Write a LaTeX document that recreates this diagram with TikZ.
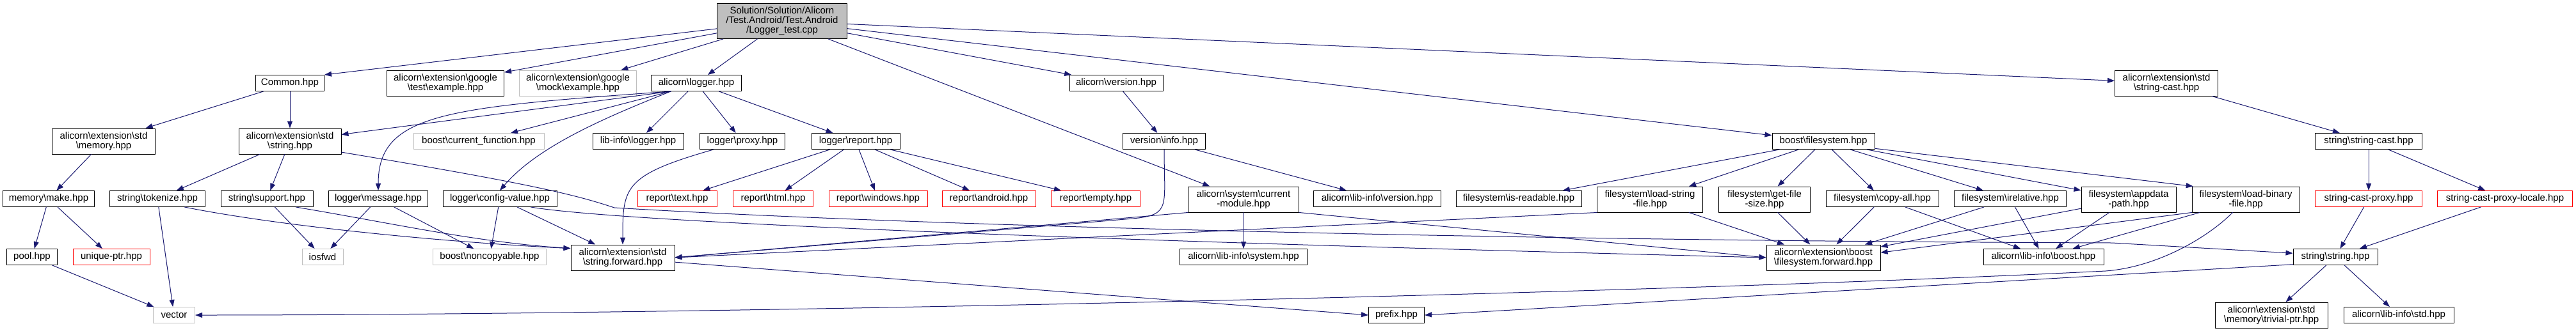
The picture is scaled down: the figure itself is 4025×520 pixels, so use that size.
\documentclass[tikz,border=0pt]{standalone}
\usepackage{fontspec}
\setmainfont{Liberation Sans}
\usetikzlibrary{arrows.meta}
\definecolor{edgeblue}{HTML}{191970}
\definecolor{boxgray}{HTML}{BFBFBF}
\newcommand{\bksl}{\textbackslash}

\begin{document}
\begin{tikzpicture}[x=1pt,y=1pt,line cap=round,line join=round,
  box/.style={draw=black,line width=1pt,inner xsep=4pt,inner ysep=3pt,minimum height=25pt,align=center,font=\fontsize{15}{15}\selectfont},
  dbl/.style={box,minimum height=40pt},
  ext/.style={draw=boxgray},
  miss/.style={draw=red},
  dep/.style={draw=edgeblue,line width=1pt,-{Triangle[length=11pt,width=8pt]}}]
\useasboundingbox (0,0) rectangle (4025,-520);
\node[box,minimum width=203pt,minimum height=55pt,fill=boxgray] (root) at (1222,-33) {Solution/Solution/Alicorn\\/Test.Android/Test.Android\\/Logger\_test.cpp};
\node[box,minimum width=107pt] (common) at (453,-130) {Common.hpp};
\node[dbl,minimum width=183pt] (gtest) at (696,-130) {alicorn\bksl extension\bksl google\\\bksl test\bksl example.hpp};
\node[dbl,ext,minimum width=183pt] (gmock) at (903,-130) {alicorn\bksl extension\bksl google\\\bksl mock\bksl example.hpp};
\node[box,minimum width=141pt] (logger) at (1088,-130) {alicorn\bksl logger.hpp};
\node[box,minimum width=146pt] (version) at (1744,-130) {alicorn\bksl version.hpp};
\node[dbl,minimum width=161pt] (strcast) at (3385,-130) {alicorn\bksl extension\bksl std\\\bksl string-cast.hpp};
\node[dbl,minimum width=161pt] (stdmem) at (162,-221) {alicorn\bksl extension\bksl std\\\bksl memory.hpp};
\node[dbl,minimum width=160pt] (stdstr) at (453,-221) {alicorn\bksl extension\bksl std\\\bksl string.hpp};
\node[box,ext,minimum width=204pt] (curfunc) at (748,-221) {boost\bksl current\_function.hpp};
\node[box,minimum width=142pt] (liblogger) at (997,-221) {lib-info\bksl logger.hpp};
\node[box,minimum width=133pt] (proxy) at (1160,-221) {logger\bksl proxy.hpp};
\node[box,minimum width=138pt] (report) at (1337,-221) {logger\bksl report.hpp};
\node[box,minimum width=129pt] (vinfo) at (1819,-221) {version\bksl info.hpp};
\node[box,minimum width=160pt] (bfs) at (2849,-221) {boost\bksl filesystem.hpp};
\node[box,minimum width=167pt] (scast) at (3701,-221) {string\bksl string-cast.hpp};
\node[box,minimum width=143pt] (make) at (76,-311) {memory\bksl make.hpp};
\node[box,minimum width=149pt] (tokenize) at (246,-311) {string\bksl tokenize.hpp};
\node[box,minimum width=144pt] (support) at (417,-311) {string\bksl support.hpp};
\node[box,minimum width=155pt] (message) at (591,-311) {logger\bksl message.hpp};
\node[box,minimum width=178pt] (config) at (781,-311) {logger\bksl config-value.hpp};
\node[box,miss,minimum width=124pt] (text) at (1058,-311) {report\bksl text.hpp};
\node[box,miss,minimum width=125pt] (html) at (1208,-311) {report\bksl html.hpp};
\node[box,miss,minimum width=154pt] (windows) at (1372,-311) {report\bksl windows.hpp};
\node[box,miss,minimum width=146pt] (android) at (1545,-311) {report\bksl android.hpp};
\node[box,miss,minimum width=139pt] (empty) at (1712,-311) {report\bksl empty.hpp};
\node[dbl,minimum width=173pt] (curmod) at (1943,-312) {alicorn\bksl system\bksl current\\-module.hpp};
\node[box,minimum width=199pt] (libversion) at (2152,-311) {alicorn\bksl lib-info\bksl version.hpp};
\node[box,minimum width=196pt] (readable) at (2373,-311) {filesystem\bksl is-readable.hpp};
\node[dbl,minimum width=165pt] (loadstr) at (2578,-312) {filesystem\bksl load-string\\-file.hpp};
\node[dbl,minimum width=143pt] (filesize) at (2757,-312) {filesystem\bksl get-file\\-size.hpp};
\node[box,minimum width=176pt] (copyall) at (2941,-311) {filesystem\bksl copy-all.hpp};
\node[box,minimum width=175pt] (relative) at (3141,-311) {filesystem\bksl irelative.hpp};
\node[dbl,minimum width=148pt] (appdata) at (3326,-312) {filesystem\bksl appdata\\-path.hpp};
\node[dbl,minimum width=168pt] (loadbin) at (3509,-312) {filesystem\bksl load-binary\\-file.hpp};
\node[box,miss,minimum width=167pt] (proxyc) at (3701,-311) {string-cast-proxy.hpp};
\node[box,miss,minimum width=211pt] (proxyl) at (3914,-311) {string-cast-proxy-locale.hpp};
\node[box,minimum width=79pt] (pool) at (50,-402) {pool.hpp};
\node[box,miss,minimum width=120pt] (uptr) at (174,-402) {unique-ptr.hpp};
\node[box,ext,minimum width=64pt] (iosfwd) at (504,-402) {iosfwd};
\node[box,ext,minimum width=177pt] (noncopy) at (765,-402) {boost\bksl noncopyable.hpp};
\node[dbl,minimum width=162pt] (strfwd) at (973,-403) {alicorn\bksl extension\bksl std\\\bksl string.forward.hpp};
\node[box,minimum width=199pt] (libsystem) at (1943,-402) {alicorn\bksl lib-info\bksl system.hpp};
\node[dbl,minimum width=178pt] (fsfwd) at (2849,-403) {alicorn\bksl extension\bksl boost\\\bksl filesystem.forward.hpp};
\node[box,minimum width=188pt] (libboost) at (3193,-402) {alicorn\bksl lib-info\bksl boost.hpp};
\node[box,minimum width=132pt] (strstr) at (3649,-402) {string\bksl string.hpp};
\node[box,ext,minimum width=65pt] (vector) at (272,-493) {vector};
\node[box,minimum width=87pt] (prefix) at (2182,-493) {prefix.hpp};
\node[dbl,minimum width=176pt] (trivial) at (3549,-493) {alicorn\bksl extension\bksl std\\\bksl memory\bksl trivial-ptr.hpp};
\node[box,minimum width=172pt] (libstd) at (3748,-493) {alicorn\bksl lib-info\bksl std.hpp};
\draw[dep] (root) -- (common.north east);
\draw[dep] (root) -- (gtest);
\draw[dep] (root) -- (gmock);
\draw[dep] (root) -- (logger);
\draw[dep] (root) -- (version);
\draw[dep] (root) -- (curmod);
\draw[dep] (root) -- (bfs);
\draw[dep] (root) -- (strcast);
\draw[dep] (common) -- (stdmem);
\draw[dep] (common) -- (stdstr);
\draw[dep] (stdmem) -- (make);
\draw[dep] (make) -- (pool);
\draw[dep] (make) -- (uptr);
\draw[dep] (pool) -- (vector);
\draw[dep] (stdstr) -- (tokenize);
\draw[dep] (stdstr) -- (support);
\draw[dep] (stdstr.-12) .. controls +(300,-50) and +(-60,20) .. (960,-325) .. controls +(500,-30) and +(-900,3) .. (3300,-380) -- (strstr.175);
\draw[dep] (tokenize) -- (vector);
\draw[dep] (tokenize.-17) .. controls +(150,-30) and +(-200,10) .. (strfwd.170);
\draw[dep] (support) -- (iosfwd);
\draw[dep] (support.-16) .. controls +(150,-25) and +(-150,10) .. (strfwd.170);
\draw[dep] (logger.-162) -- (stdstr);
\draw[dep] (logger.-162) .. controls +(-350,-25) and +(0,121) .. (message.north);
\draw[dep] (logger.-162) -- (curfunc);
\draw[dep] (logger.-162) .. controls +(-100,-40) and +(60,70) .. (config.north);
\draw[dep] (logger) -- (liblogger);
\draw[dep] (logger) -- (proxy);
\draw[dep] (logger) -- (report);
\draw[dep] (message) -- (iosfwd);
\draw[dep] (message) -- (noncopy);
\draw[dep] (config) -- (noncopy);
\draw[dep] (config) -- (strfwd);
\draw[dep] (config.-15) .. controls +(150,-25) and +(-1000,25) .. (fsfwd.west);
\draw[dep] (proxy.-164) .. controls +(-140,-40) and +(0,90) .. (strfwd.north);
\draw[dep] (report) -- (text);
\draw[dep] (report) -- (html);
\draw[dep] (report) -- (windows);
\draw[dep] (report) -- (android);
\draw[dep] (report) -- (empty);
\draw[dep] (version) -- (vinfo);
\draw[dep] (vinfo) -- (libversion);
\draw[dep] (vinfo.south) .. controls +(0,-90) and +(60,6) .. (1770,-342) -- (strfwd.east);
\draw[dep] (curmod) -- (libsystem);
\draw[dep] (curmod.south west) -- (strfwd.east);
\draw[dep] (curmod.south east) -- (fsfwd.west);
\draw[dep] (bfs) -- (readable);
\draw[dep] (bfs) -- (loadstr);
\draw[dep] (bfs) -- (filesize);
\draw[dep] (bfs) -- (copyall);
\draw[dep] (bfs) -- (relative);
\draw[dep] (bfs) -- (appdata);
\draw[dep] (bfs.-8) -- (loadbin.166);
\draw[dep] (loadstr.south west) -- (strfwd.east);
\draw[dep] (loadstr) -- (fsfwd);
\draw[dep] (filesize) -- (fsfwd);
\draw[dep] (copyall) -- (fsfwd);
\draw[dep] (copyall) -- (libboost);
\draw[dep] (relative) -- (fsfwd);
\draw[dep] (relative) -- (libboost);
\draw[dep] (appdata) -- (fsfwd);
\draw[dep] (appdata) -- (libboost);
\draw[dep] (loadbin.south west) -- (fsfwd.5);
\draw[dep] (loadbin) -- (libboost);
\draw[dep] (loadbin.-135) .. controls +(-40,-40) and +(80,6) .. (3290,-424) .. controls +(-700,-35) and +(800,0) .. (vector.east);
\draw[dep] (strfwd.-5) -- (prefix.west);
\draw[dep] (strcast) -- (scast);
\draw[dep] (scast) -- (proxyc);
\draw[dep] (scast) -- (proxyl);
\draw[dep] (proxyc) -- (strstr);
\draw[dep] (proxyl) -- (strstr);
\draw[dep] (strstr) -- (trivial);
\draw[dep] (strstr) -- (libstd);
\draw[dep] (strstr.190) -- (prefix.east);
\end{tikzpicture}
\end{document}
